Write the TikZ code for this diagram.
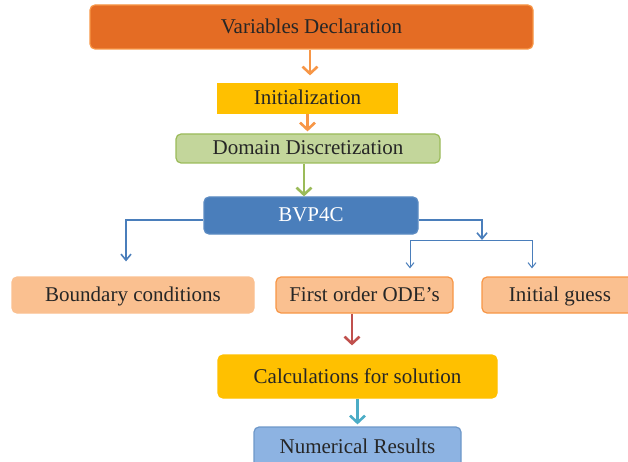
\documentclass[tikz,border=0pt]{standalone}
\usepackage{fontspec}
\setmainfont{Liberation Serif}
\usetikzlibrary{arrows.meta}

\definecolor{vdorange}{HTML}{E46C24}
\definecolor{lightorange}{HTML}{F79646}
\definecolor{gold}{HTML}{FFC000}
\definecolor{leafgreen}{HTML}{C3D69B}
\definecolor{olivegreen}{HTML}{9BBB59}
\definecolor{steelblue}{HTML}{4A7EBB}
\definecolor{peach}{HTML}{FAC090}
\definecolor{skyblue}{HTML}{8DB3E2}
\definecolor{brickred}{HTML}{C0504D}
\definecolor{aqua}{HTML}{4BACC6}

\tikzset{
  box/.style={draw, line width=1.2pt, rounded corners=5pt, inner sep=0pt,
              font=\fontsize{21}{25}\selectfont, text=black!85,
              text height=14pt, text depth=1pt},
  flow/.style={line width=2.6pt, -{Straight Barb[length=7pt,width=15pt]}},
  branch/.style={line width=1pt, -{Straight Barb[length=5pt,width=8pt]}}
}

\begin{document}
\begin{tikzpicture}[x=1pt,y=-1pt]
        \clip (0,0) rectangle (628,462);

        % the main chain of steps
        \node[box, fill=vdorange, draw=lightorange, minimum width=443pt, minimum height=44pt]
            (vd) at (311.5,27) {Variables Declaration};
        \node[box, rounded corners=0pt, fill=gold, draw=gold, minimum width=179pt, minimum height=29pt]
            (init) at (307.5,98.5) {Initialization};
        \node[box, fill=leafgreen, draw=olivegreen, minimum width=264pt, minimum height=29pt]
            (dd) at (308,148.5) {Domain Discretization};
        \node[box, fill=steelblue, draw=steelblue!90, text=white, minimum width=214pt, minimum height=37pt]
            (bvp) at (311,215.5) {BVP4C};

        % the three inputs
        \node[box, fill=peach, draw=peach, minimum width=242pt, minimum height=36pt]
            (bc) at (133,295) {Boundary conditions};
        \node[box, fill=peach, draw=lightorange, minimum width=177pt, minimum height=36pt]
            (ode) at (364.5,295) {First order ODE's};
        \node[box, fill=peach, draw=lightorange, minimum width=156pt, minimum height=36pt]
            (ig) at (560,295) {Initial guess};

        % the results
        \node[box, fill=gold, draw=gold, minimum width=279pt, minimum height=43pt]
            (calc) at (357.5,376.5) {Calculations for solution};
        \node[box, fill=skyblue, draw=steelblue!80, minimum width=207pt, minimum height=40pt]
            (num) at (357.5,447) {Numerical Results};

        % arrows down the chain
        \draw[flow, lightorange, shorten >=8pt] ([xshift=-1.5pt]vd.south) -- ([xshift=-1.5pt]vd.south |- init.north);
        \draw[flow, lightorange, shorten >=2pt] (init.south) -- (init.south |- dd.north);
        \draw[flow, olivegreen] ([xshift=-4pt]dd.south) -- ([xshift=-4pt]dd.south |- bvp.north);

        % branches out of BVP4C
        \coordinate (split) at (482,240);
        \coordinate (odein) at (410,240);
        \coordinate (igin) at (532,240);
        \draw[flow, steelblue, line width=1.6pt, -{Straight Barb[length=6pt,width=10pt]}]
            ([yshift=-4.5pt]bvp.west) -| ([xshift=-7pt,yshift=15pt]bc.north);
        \draw[flow, steelblue, line width=1.6pt, -{Straight Barb[length=6pt,width=10pt]}]
            ([yshift=-4.5pt]bvp.east) -| (split);
        \draw[steelblue, line width=1pt] (odein) -- (igin);
        \foreach \n in {odein,igin}
                \draw[branch, steelblue, shorten >=8pt] (\n) -- (\n |- ode.north);

        % arrows to the results
        \draw[flow, brickred, shorten >=9pt] ([xshift=-12.5pt]ode.south) -- ([xshift=-12.5pt]ode.south |- calc.north);
        \draw[flow, aqua, shorten >=2pt] (calc.south) -- (calc.south |- num.north);
\end{tikzpicture}
\end{document}
